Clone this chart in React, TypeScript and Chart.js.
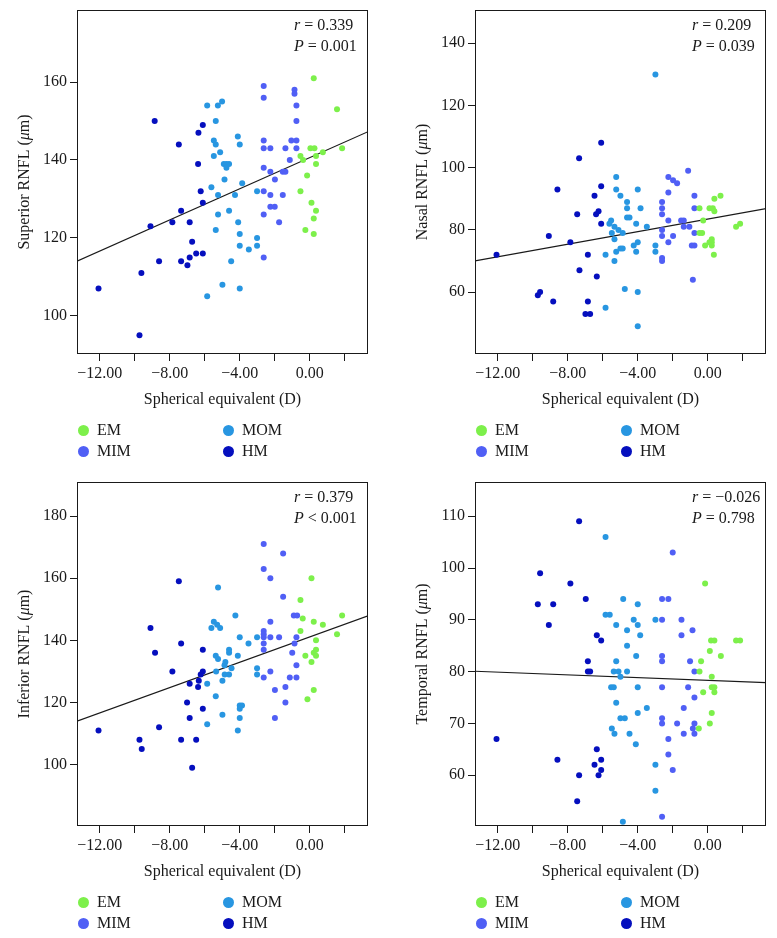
import React, { useEffect, useRef } from 'react';
import { Chart, registerables } from 'chart.js';

Chart.register(...registerables);

const FONT = "'Liberation Serif', 'Times New Roman', Times, serif";
const INK = '#1a1a1a';

const groupNames = ['EM', 'MIM', 'MOM', 'HM'];
const groupColors = ['#7DF04B', '#505FF5', '#2896E1', '#050FBE'];

const seTickValues = [-12, -10, -8, -6, -4, -2, 0, 2];
const seMin = -13.3;
const seMax = 3.33;
const xTitle = 'Spherical equivalent (D)';

// ---------- Superior ----------
const superiorEM = [[0.23,161],[1.56,153],[0.04,143],[0.27,143],[0.75,142],[1.85,143],[-0.53,141],[-0.38,140],[0.36,141],[0.36,139],[-0.15,136],[-0.53,132],[0.1,129],[0.36,127],[0.23,125],[-0.25,122],[0.23,121]];
const superiorMIM = [[-2.63,159],[-2.63,156],[-0.87,158],[-0.87,157],[-0.76,154],[-0.76,150],[-2.63,145],[-2.63,143],[-2.25,143],[-1.39,143],[-1.05,145],[-0.76,145],[-0.76,143],[-1.14,140],[-2.63,138],[-2.25,137],[-1.54,137],[-1.39,137],[-1.99,135],[-2.63,132],[-2.25,131],[-1.54,131],[-2.25,128],[-2.0,128],[-2.63,126],[-1.75,124],[-2.63,115]];
const superiorMOM = [[-5.86,154],[-5.25,154],[-5.01,155],[-5.37,150],[-5.48,145],[-5.37,144],[-4.11,146],[-4.0,144],[-5.12,142],[-5.48,141],[-4.91,139],[-4.76,139],[-4.61,139],[-4.76,138],[-4.87,135],[-3.86,134],[-5.62,133],[-5.24,131],[-4.27,131],[-3.01,132],[-5.24,126],[-4.61,127],[-4.09,124],[-5.37,122],[-4.0,121],[-3.01,120],[-4.0,118],[-3.01,118],[-3.48,117],[-4.49,114],[-4.99,108],[-4.0,107],[-5.86,105]];
const superiorHM = [[-8.86,150],[-6.11,149],[-6.36,147],[-7.48,144],[-6.38,139],[-6.23,132],[-6.11,129],[-7.35,127],[-9.1,123],[-7.85,124],[-6.86,124],[-6.72,119],[-6.49,116],[-6.11,116],[-6.86,115],[-8.61,114],[-7.35,114],[-6.99,113],[-9.62,111],[-12.07,107],[-9.73,95]];
const superiorYTicks = [100, 120, 140, 160];
const superiorYRange = [90.2, 178.5];
const superiorFit = { slope: 2.0, intercept: 140.6 };
const superiorStats = { r: '= 0.339', p: '= 0.001' };

// ---------- Nasal ----------
const nasalEM = [[0.38,90],[0.73,91],[-0.47,87],[0.1,87],[0.29,87],[0.38,86],[-0.26,83],[-0.47,79],[-0.32,79],[0.23,77],[0.1,76],[0.23,76],[-0.15,75],[0.23,75],[0.35,72],[1.62,81],[1.85,82]];
const nasalMIM = [[-2.25,97],[-1.98,96],[-1.75,95],[-1.12,99],[-2.25,92],[-0.76,91],[-2.61,89],[-2.61,87],[-2.61,85],[-2.25,83],[-2.61,80],[-2.61,78],[-1.98,78],[-2.25,76],[-2.61,71],[-2.61,70],[-1.52,83],[-1.37,83],[-1.37,81],[-1.05,81],[-0.76,87],[-0.76,79],[-0.91,75],[-0.76,75],[-0.85,64]];
const nasalMOM = [[-2.99,130],[-5.23,97],[-5.23,93],[-4.0,93],[-4.99,91],[-4.61,89],[-4.61,87],[-3.84,87],[-4.61,84],[-4.47,84],[-5.52,83],[-5.62,82],[-5.33,81],[-5.1,80],[-5.48,79],[-4.86,79],[-5.33,77],[-4.09,82],[-3.48,81],[-5.84,72],[-5.33,70],[-5.23,73],[-4.99,74],[-4.86,74],[-4.23,75],[-4.0,76],[-4.09,73],[-2.99,75],[-2.99,73],[-4.74,61],[-4.0,60],[-5.84,55],[-4.0,49]];
const nasalHM = [[-6.09,108],[-7.35,103],[-6.09,94],[-8.59,93],[-6.47,91],[-7.46,85],[-6.38,85],[-6.24,86],[-6.09,82],[-9.08,78],[-7.85,76],[-12.07,72],[-6.85,72],[-7.33,67],[-6.34,65],[-9.71,59],[-9.58,60],[-8.83,57],[-6.85,57],[-6.99,53],[-6.72,53]];
const nasalYTicks = [60, 80, 100, 120, 140];
const nasalYRange = [40.1, 150.7];
const nasalFit = { slope: 1.01, intercept: 83.5 };
const nasalStats = { r: '= 0.209', p: '= 0.039' };

// ---------- Inferior ----------
const inferiorEM = [[0.1,160],[-0.53,153],[-0.4,147],[1.85,148],[0.23,146],[0.75,145],[-0.53,143],[1.56,142],[0.36,140],[0.36,137],[0.23,136],[0.36,135],[-0.25,135],[0.1,133],[0.23,124],[-0.13,121]];
const inferiorMIM = [[-2.63,171],[-1.52,168],[-2.63,163],[-2.25,160],[-1.52,154],[-0.91,148],[-0.72,148],[-2.25,146],[-2.63,143],[-2.63,142],[-2.25,141],[-1.75,141],[-2.63,141],[-0.76,141],[-0.87,139],[-2.63,139],[-2.63,137],[-1.0,136],[-0.76,132],[-2.25,130],[-2.63,128],[-1.14,128],[-0.76,128],[-1.39,125],[-1.99,124],[-1.39,120],[-1.99,115]];
const inferiorMOM = [[-5.24,157],[-4.25,148],[-5.48,146],[-5.29,145],[-5.12,144],[-5.62,144],[-4.0,141],[-3.01,141],[-3.5,139],[-4.61,137],[-4.61,136],[-5.37,135],[-5.24,134],[-4.11,135],[-4.82,133],[-4.87,132],[-3.01,131],[-4.47,131],[-5.35,130],[-3.01,129],[-4.99,127],[-4.86,129],[-4.61,129],[-5.86,126],[-5.37,122],[-4.99,116],[-5.86,113],[-4.0,119],[-3.87,119],[-4.0,118],[-4.0,115],[-4.11,111]];
const inferiorHM = [[-7.48,159],[-9.1,144],[-7.35,139],[-6.11,137],[-8.84,136],[-7.85,130],[-6.11,130],[-6.23,129],[-6.34,127],[-6.86,126],[-6.38,125],[-7.01,120],[-6.11,118],[-6.86,115],[-12.07,111],[-8.61,112],[-9.73,108],[-9.6,105],[-7.35,108],[-6.49,108],[-6.72,99]];
const inferiorYTicks = [100, 120, 140, 160, 180];
const inferiorYRange = [80.2, 191];
const inferiorFit = { slope: 2.04, intercept: 141.1 };
const inferiorStats = { r: '= 0.379', p: '< 0.001' };

// ---------- Temporal ----------
const temporalEM = [[-0.15,97],[0.19,86],[0.38,86],[1.62,86],[1.85,86],[0.12,84],[0.75,83],[-0.38,82],[-0.47,80],[0.23,79],[0.23,77],[0.38,77],[0.38,76],[-0.26,76],[0.23,72],[0.12,70],[-0.51,69]];
const temporalMIM = [[-2.0,103],[-2.61,94],[-2.25,94],[-2.61,90],[-1.5,90],[-0.87,88],[-1.5,87],[-2.61,83],[-2.61,82],[-1.01,82],[-0.76,80],[-2.61,77],[-1.12,77],[-0.76,75],[-1.37,73],[-2.61,71],[-2.61,70],[-1.75,70],[-0.76,70],[-0.85,69],[-1.37,68],[-0.76,68],[-2.25,67],[-2.25,64],[-2.0,61],[-2.61,52]];
const temporalMOM = [[-5.84,106],[-4.83,94],[-4.0,93],[-5.84,91],[-5.6,91],[-4.23,90],[-2.99,90],[-5.23,89],[-4.0,89],[-4.61,88],[-3.86,87],[-4.61,85],[-4.09,83],[-5.23,82],[-5.37,80],[-5.1,80],[-4.61,80],[-4.99,79],[-5.52,77],[-5.37,77],[-4.0,77],[-5.23,74],[-3.48,73],[-4.0,72],[-4.99,71],[-4.74,71],[-5.48,69],[-5.33,68],[-4.47,68],[-4.11,66],[-2.99,62],[-2.99,57],[-4.85,51]];
const temporalHM = [[-7.35,109],[-9.58,99],[-7.85,97],[-6.97,94],[-9.71,93],[-8.83,93],[-9.08,89],[-6.34,87],[-6.09,86],[-6.85,82],[-6.85,80],[-6.72,80],[-12.07,67],[-6.34,65],[-8.59,63],[-6.09,63],[-6.47,62],[-6.09,61],[-7.35,60],[-6.24,60],[-7.46,55]];
const temporalYTicks = [60, 70, 80, 90, 100, 110];
const temporalYRange = [50.2, 116.6];
const temporalFit = { slope: -0.133, intercept: 78.3 };
const temporalStats = { r: '= \u22120.026', p: '= 0.798' };

type Pt = number[];
interface PanelCfg {
  yTitle: string;
  groups: Pt[][];
  yTicks: number[];
  yRange: number[];
  fit: { slope: number; intercept: number };
  stats: { r: string; p: string };
}

const panels: PanelCfg[] = [
  { yTitle: 'Superior RNFL', groups: [superiorEM, superiorMIM, superiorMOM, superiorHM], yTicks: superiorYTicks, yRange: superiorYRange, fit: superiorFit, stats: superiorStats },
  { yTitle: 'Nasal RNFL', groups: [nasalEM, nasalMIM, nasalMOM, nasalHM], yTicks: nasalYTicks, yRange: nasalYRange, fit: nasalFit, stats: nasalStats },
  { yTitle: 'Inferior RNFL', groups: [inferiorEM, inferiorMIM, inferiorMOM, inferiorHM], yTicks: inferiorYTicks, yRange: inferiorYRange, fit: inferiorFit, stats: inferiorStats },
  { yTitle: 'Temporal RNFL', groups: [temporalEM, temporalMIM, temporalMOM, temporalHM], yTicks: temporalYTicks, yRange: temporalYRange, fit: temporalFit, stats: temporalStats },
];

// layout (px)
const CANVAS_H = 420;
const Y_AXIS_W = 77;
const PLOT_W = 291;
const PLOT_TOP = 10;
const PLOT_H = 344;
const slots = [
  { left: 0, top: 0, width: 388 },
  { left: 398, top: 0, width: 379 },
  { left: 0, top: 472, width: 388 },
  { left: 398, top: 472, width: 379 },
];

function fmtSE(v: number) {
  const s = Math.abs(v).toFixed(2);
  return v < 0 ? '\u2212' + s : s;
}

function drawRuns(ctx: CanvasRenderingContext2D, runs: [string, boolean][], x: number, y: number, align: 'left' | 'center') {
  const widths = runs.map(([t, it]) => {
    ctx.font = `${it ? 'italic ' : ''}16px ${FONT}`;
    return ctx.measureText(t).width;
  });
  const total = widths.reduce((a, b) => a + b, 0);
  let cx = align === 'center' ? x - total / 2 : x;
  ctx.textAlign = 'left';
  runs.forEach(([t, it], i) => {
    ctx.font = `${it ? 'italic ' : ''}16px ${FONT}`;
    ctx.fillText(t, cx, y);
    cx += widths[i];
  });
}

const decoPlugin = {
  id: 'panelDeco',
  afterDraw(chart: any, _args: any, opts: any) {
    const { ctx, chartArea: a } = chart;
    ctx.save();
    ctx.strokeStyle = INK;
    ctx.lineWidth = 1;
    ctx.strokeRect(a.left + 0.5, a.top + 0.5, a.right - a.left - 1, a.bottom - a.top - 1);
    ctx.fillStyle = INK;
    ctx.textBaseline = 'middle';
    const ax = a.right - 74;
    drawRuns(ctx, [['r', true], [' ' + opts.r, false]], ax, a.top + 16, 'left');
    drawRuns(ctx, [['P', true], [' ' + opts.p, false]], ax, a.top + 37, 'left');
    drawRuns(ctx, [[opts.xTitle, false]], (a.left + a.right) / 2, a.bottom + 46, 'center');
    ctx.translate(a.left - 52, (a.top + a.bottom) / 2);
    ctx.rotate(-Math.PI / 2);
    drawRuns(ctx, [[opts.yTitle + ' (', false], ['\u03bc', true], ['m)', false]], 0, 0, 'center');
    ctx.restore();
  },
};

function Panel({ cfg, slot }: { cfg: PanelCfg; slot: { left: number; top: number; width: number } }) {
  const ref = useRef<HTMLCanvasElement>(null);
  useEffect(() => {
    if (!ref.current) return;
    const datasets: any[] = cfg.groups.map((pts, i) => ({
      label: groupNames[i],
      data: pts.map(([x, y]) => ({ x, y })),
      backgroundColor: groupColors[i],
      borderWidth: 0,
      pointRadius: 3,
      pointHoverRadius: 3,
    }));
    datasets.push({
      label: 'fit',
      data: [seMin, seMax].map((x) => ({ x, y: cfg.fit.intercept + cfg.fit.slope * x })),
      showLine: true,
      borderColor: INK,
      borderWidth: 1.2,
      pointRadius: 0,
      fill: false,
    });
    const chart = new Chart(ref.current, {
      type: 'scatter',
      data: { datasets },
      plugins: [decoPlugin as any],
      options: {
        animation: false,
        responsive: false,
        devicePixelRatio: 1,
        layout: { padding: { left: 0, top: PLOT_TOP, right: slot.width - Y_AXIS_W - PLOT_W, bottom: 0 } },
        plugins: {
          legend: { display: false },
          tooltip: { enabled: false },
          panelDeco: { r: cfg.stats.r, p: cfg.stats.p, xTitle, yTitle: cfg.yTitle },
        } as any,
        scales: {
          x: {
            type: 'linear',
            min: seMin,
            max: seMax,
            afterBuildTicks: (s: any) => { s.ticks = seTickValues.map((v) => ({ value: v })); },
            afterFit: (s: any) => { s.height = CANVAS_H - PLOT_TOP - PLOT_H; s.paddingLeft = 0; s.paddingRight = 0; },
            grid: { display: true, drawOnChartArea: false, drawTicks: true, tickLength: 7, color: INK, lineWidth: 1 },
            border: { display: false },
            ticks: {
              autoSkip: false,
              maxRotation: 0,
              padding: 3,
              color: INK,
              font: { family: FONT, size: 16 },
              callback: (v: any) => (Number(v) % 4 === 0 ? fmtSE(Number(v)) : ''),
            },
          },
          y: {
            type: 'linear',
            min: cfg.yRange[0],
            max: cfg.yRange[1],
            afterBuildTicks: (s: any) => { s.ticks = cfg.yTicks.map((v) => ({ value: v })); },
            afterFit: (s: any) => { s.width = Y_AXIS_W; s.paddingTop = 0; s.paddingBottom = 0; },
            grid: { display: true, drawOnChartArea: false, drawTicks: true, tickLength: 7, color: INK, lineWidth: 1 },
            border: { display: false },
            ticks: {
              padding: 3,
              color: INK,
              font: { family: FONT, size: 16 },
              callback: (v: any) => String(v),
            },
          },
        },
      } as any,
    });
    return () => chart.destroy();
  }, []);

  const plotLeft = slot.left + Y_AXIS_W;
  const plotBottom = slot.top + PLOT_TOP + PLOT_H;
  const legendItems = [
    { g: 0, col: 0, row: 0 },
    { g: 2, col: 1, row: 0 },
    { g: 1, col: 0, row: 1 },
    { g: 3, col: 1, row: 1 },
  ];
  return (
    <>
      <canvas
        ref={ref}
        width={slot.width}
        height={CANVAS_H}
        style={{ position: 'absolute', left: slot.left, top: slot.top, width: slot.width, height: CANVAS_H }}
      />
      {legendItems.map(({ g, col, row }) => {
        const cy = plotBottom + 76 + row * 21;
        const cx = plotLeft + 6 + col * 145;
        return (
          <React.Fragment key={g}>
            <div
              style={{
                position: 'absolute',
                left: cx - 5.5,
                top: cy - 5.5,
                width: 11,
                height: 11,
                borderRadius: '50%',
                background: groupColors[g],
              }}
            />
            <div
              style={{
                position: 'absolute',
                left: plotLeft + 20 + col * 145,
                top: cy - 11,
                height: 22,
                lineHeight: '22px',
                fontFamily: FONT,
                fontSize: 16,
                color: INK,
                whiteSpace: 'nowrap',
              }}
            >
              {groupNames[g]}
            </div>
          </React.Fragment>
        );
      })}
    </>
  );
}

export default function App() {
  return (
    <div style={{ position: 'absolute', left: 0, top: 0, width: 777, height: 938, overflow: 'hidden', background: '#fff' }}>
      {panels.map((cfg, i) => (
        <Panel key={i} cfg={cfg} slot={slots[i]} />
      ))}
    </div>
  );
}
